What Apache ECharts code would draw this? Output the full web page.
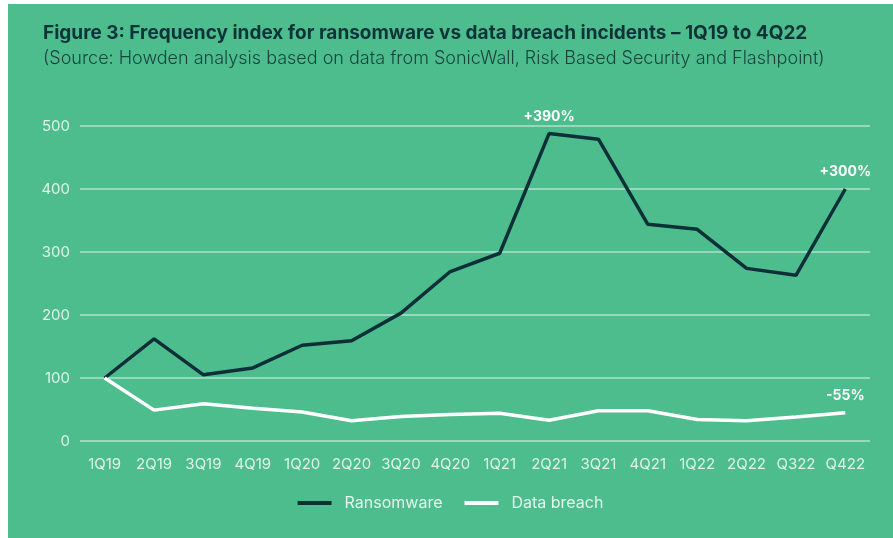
<!DOCTYPE html>
<html>
<head>
<meta charset="utf-8">
<script src="https://cdn.jsdelivr.net/npm/echarts@6/dist/echarts.min.js"></script>
<style>
  html, body { margin: 0; padding: 0; background: #fff; }
  #chart { position: absolute; left: 8px; top: 4px; width: 885px; height: 534px; background: #4ebd8d; }
</style>
</head>
<body>
<div id="chart"></div>
<script>
const quarters = ["1Q19", "2Q19", "3Q19", "4Q19", "1Q20", "2Q20", "3Q20", "4Q20",
  "1Q21", "2Q21", "3Q21", "4Q21", "1Q22", "2Q22", "Q322", "Q422"];
const ransomware = [100, 162, 105, 116, 152, 159, 203, 269, 298, 488, 479, 344, 336, 274, 263, 400];
const dataBreach = [100, 49, 59, 52, 46, 32, 39, 42, 44, 33, 48, 48, 34, 32, 38, 45];
// annotations keyed by category index
const ransomwareNotes = { 9: "+390%", 15: "+300%" };
const breachNotes = { 15: "-55%" };

function withNotes(values, notes) {
  return values.map((v, i) => notes[i]
    ? { value: v, label: { show: true, formatter: notes[i] } }
    : v);
}

const labelFont = "Inter, 'Noto Sans', sans-serif";
const noteLabel = { show: false, position: "top", distance: 10, color: "#fff", fontWeight: "bold", fontSize: 14, fontFamily: labelFont };

const chart = echarts.init(document.getElementById("chart"));
chart.setOption({
  animation: false,
  title: {
    text: "Figure 3: Frequency index for ransomware vs data breach incidents – 1Q19 to 4Q22",
    subtext: "(Source: Howden analysis based on data from SonicWall, Risk Based Security and Flashpoint)",
    left: 30,
    top: 15,
    itemGap: 7,
    textStyle: { color: "#0c3438", fontSize: 19, fontWeight: "bold", fontFamily: labelFont },
    subtextStyle: { color: "#17433f", fontSize: 18, fontWeight: 300, fontFamily: labelFont }
  },
  grid: { left: 72, right: 23, top: 122, bottom: 97 },
  legend: {
    bottom: 22,
    left: "center",
    itemGap: 22,
    itemWidth: 34,
    itemHeight: 4,
    icon: "rect",
    textStyle: { color: "#e3f6ec", fontSize: 16, fontFamily: labelFont, padding: [0, 0, 0, 8] },
    data: ["Ransomware", "Data breach"]
  },
  xAxis: {
    type: "category",
    data: quarters,
    boundaryGap: true,
    axisLine: { show: false },
    axisTick: { show: false },
    axisLabel: { color: "#dff3e8", fontSize: 15, margin: 16, interval: 0, fontFamily: labelFont }
  },
  yAxis: {
    type: "value",
    min: 0,
    max: 500,
    interval: 100,
    axisLine: { show: false },
    axisTick: { show: false },
    axisLabel: { color: "#dff3e8", fontSize: 15, margin: 10, fontFamily: labelFont },
    splitLine: { lineStyle: { color: "rgba(255,255,255,0.55)", width: 1.5 } }
  },
  series: [
    {
      name: "Ransomware",
      type: "line",
      data: withNotes(ransomware, ransomwareNotes),
      symbol: "circle",
      symbolSize: 0,
      color: "#0d2f38",
      lineStyle: { width: 3.5, color: "#0d2f38" },
      label: noteLabel
    },
    {
      name: "Data breach",
      type: "line",
      data: withNotes(dataBreach, breachNotes),
      symbol: "circle",
      symbolSize: 0,
      color: "#ffffff",
      lineStyle: { width: 3.5, color: "#ffffff" },
      label: noteLabel
    }
  ]
});
</script>
</body>
</html>
